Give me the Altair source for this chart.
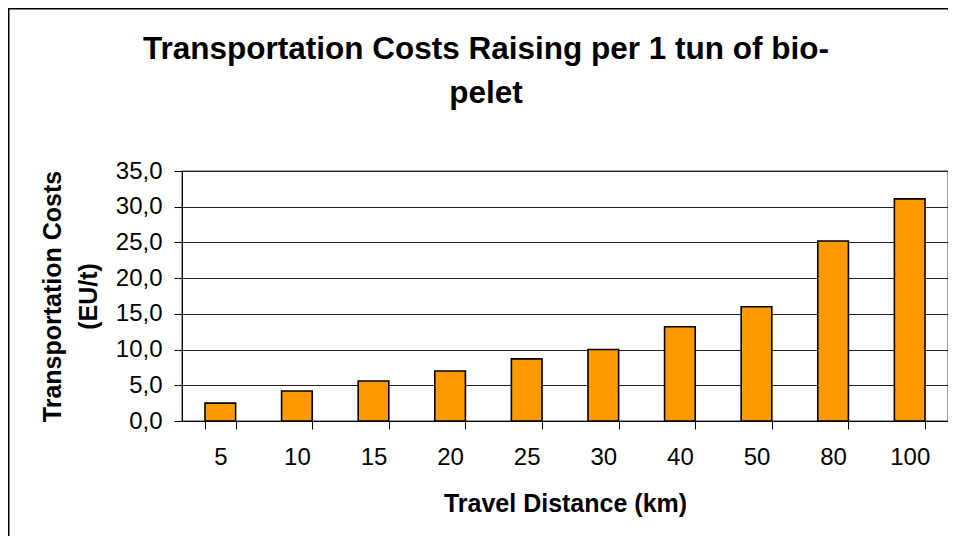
import altair as alt
import pandas as pd

distance = ["5", "10", "15", "20", "25", "30", "40", "50", "80", "100"]
cost = [2.5, 4.2, 5.6, 7.0, 8.7, 10.0, 13.2, 16.0, 25.2, 31.1]
y_ticks = [0, 5, 10, 15, 20, 25, 30, 35]

df = pd.DataFrame({"distance": distance, "cost": cost})
frame_df = pd.DataFrame({"k": [0]})

FONT = "Liberation Sans"
W, H = 766, 250
PL, PT, PR, PB = 174, 163, 0, 115

bars = alt.Chart(df).mark_bar(
    color="#FF9900", stroke="#000000", strokeWidth=1.6
).encode(
    x=alt.X(
        "distance:N",
        sort=distance,
        scale=alt.Scale(paddingInner=0.6, paddingOuter=0.3),
        axis=alt.Axis(
            title="Travel Distance (km)",
            labelAngle=0,
            labelFontSize=24,
            labelFont=FONT,
            labelColor="#000000",
            labelPadding=16,
            tickBand="extent",
            tickSize=8,
            tickColor="#000000",
            domainColor="#000000",
            grid=False,
            titleFontSize=25,
            titleFont=FONT,
            titleFontWeight="bold",
            titleColor="#000000",
            titlePadding=22,
        ),
    ),
    y=alt.Y(
        "cost:Q",
        scale=alt.Scale(domain=[0, 35], nice=False),
        axis=alt.Axis(
            title=["Transportation Costs", "(EU/t)"],
            values=y_ticks,
            labelExpr="replace(format(datum.value, '.1f'), '.', ',')",
            labelFontSize=24,
            labelFont=FONT,
            labelColor="#000000",
            labelPadding=12,
            tickSize=8,
            tickColor="#000000",
            domainColor="#000000",
            grid=True,
            gridColor="#222222",
            gridWidth=1,
            titleFontSize=25,
            titleFont=FONT,
            titleFontWeight="bold",
            titleColor="#000000",
            titleLineHeight=36,
            titlePadding=14,
        ),
    ),
)

left_line = alt.Chart(frame_df).mark_rule(color="#000000", strokeWidth=1.5).encode(
    x=alt.value(-PL + 0.75), y=alt.value(-PT), y2=alt.value(H + PB)
)
top_line = alt.Chart(frame_df).mark_rule(color="#000000", strokeWidth=1.5).encode(
    x=alt.value(-PL), x2=alt.value(W + PR), y=alt.value(-PT + 0.75)
)

chart = alt.layer(bars, left_line, top_line).properties(
    width=W,
    height=H,
    padding={"left": PL, "top": PT, "right": PR, "bottom": PB},
    autosize=alt.AutoSizeParams(type="none"),
    background="#FFFFFF",
    title=alt.TitleParams(
        text=["Transportation Costs Raising per 1 tun of bio-", "pelet"],
        font=FONT,
        fontSize=31.5,
        fontWeight="bold",
        color="#000000",
        anchor="middle",
        frame="group",
        dx=-79,
        lineHeight=44,
        offset=-102,
    ),
).configure_view(stroke="#808080", strokeWidth=1.5)

chart.save("out.html", embed_options={"renderer": "svg", "actions": False})
